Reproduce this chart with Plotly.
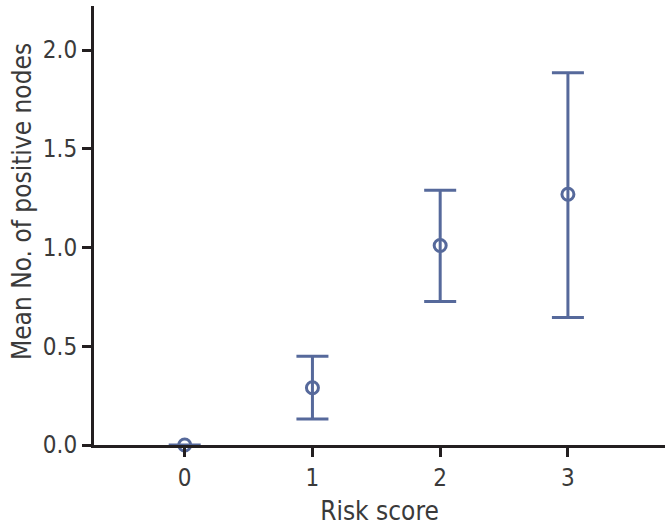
import plotly.graph_objects as go

# Risk score vs mean number of positive nodes (with error bars)
risk_score = [0, 1, 2, 3]
mean_nodes = [0.0, 0.29, 1.01, 1.27]
upper = [None, 0.45, 1.29, 1.885]  # no error bar drawn for score 0
lower = [None, 0.132, 0.727, 0.645]

y_ticks = [0.0, 0.5, 1.0, 1.5, 2.0]
y_tick_labels = ["0.0", "0.5", "1.0", "1.5", "2.0"]

MARK = "#56699b"
AXIS = "#231f20"
TEXT = "#3a3a3a"
FONT = "DejaVu Sans Condensed, Liberation Sans Narrow, sans-serif"

err_plus = [None if u is None else u - m for u, m in zip(upper, mean_nodes)]
err_minus = [None if l is None else m - l for m, l in zip(mean_nodes, lower)]

fig = go.Figure(
    go.Scatter(
        x=risk_score,
        y=mean_nodes,
        mode="markers",
        marker=dict(symbol="circle-open", size=12, color=MARK, line=dict(width=3, color=MARK)),
        error_y=dict(
            type="data",
            symmetric=False,
            array=err_plus,
            arrayminus=err_minus,
            color=MARK,
            thickness=3,
            width=16,
        ),
        cliponaxis=False,
        showlegend=False,
    )
)

fig.update_layout(
    width=666,
    height=527,
    margin=dict(l=94, r=1, t=6, b=82),
    paper_bgcolor="white",
    plot_bgcolor="white",
    font=dict(family=FONT, color=TEXT, size=24),
    annotations=[
        dict(
            text="Mean No. of positive nodes",
            xref="paper",
            yref="paper",
            x=-0.125,
            y=0.555,
            xanchor="center",
            yanchor="middle",
            textangle=-90,
            showarrow=False,
            font=dict(size=26, color=TEXT, family=FONT),
        )
    ],
)
fig.update_xaxes(
    range=[-0.71, 3.76],
    tickvals=risk_score,
    ticktext=[str(v) for v in risk_score],
    showline=True,
    linecolor=AXIS,
    linewidth=3,
    ticks="outside",
    ticklen=9,
    tickwidth=3,
    tickcolor=AXIS,
    showgrid=False,
    zeroline=False,
    title=dict(text="Risk score", font=dict(size=26), standoff=12),
)
fig.update_yaxes(
    range=[0, 2.223],
    tickvals=y_ticks,
    ticktext=y_tick_labels,
    showline=True,
    linecolor=AXIS,
    linewidth=3,
    ticks="outside",
    ticklen=9,
    tickwidth=3,
    tickcolor=AXIS,
    showgrid=False,
    zeroline=False,
)

fig.write_html(
    "out.html",
    config={"displayModeBar": False},
    post_script="document.body.style.margin = '0';",
)
